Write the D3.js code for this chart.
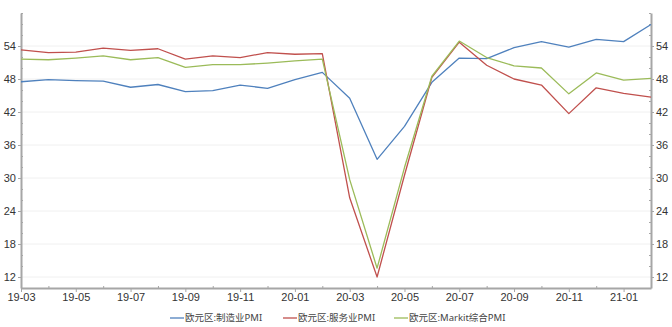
<!DOCTYPE html>
<html>
<head>
<meta charset="utf-8">
<script src="https://cdn.jsdelivr.net/npm/d3@7"></script>
<style>
  html, body { margin: 0; padding: 0; background: #fff; }
  svg { display: block; font-family: "Noto Sans", "Noto Sans CJK SC", sans-serif; }
</style>
</head>
<body>
<svg id="chart" width="672" height="327"></svg>
<script>
const months = ["19-03","19-04","19-05","19-06","19-07","19-08","19-09","19-10","19-11","19-12",
  "20-01","20-02","20-03","20-04","20-05","20-06","20-07","20-08","20-09","20-10","20-11","20-12",
  "21-01","21-02"];
const manufacturing = [47.5,47.9,47.7,47.6,46.5,47.0,45.7,45.9,46.9,46.3,47.9,49.2,44.5,33.4,39.4,47.4,51.8,51.7,53.7,54.8,53.8,55.2,54.8,57.9];
const services = [53.3,52.8,52.9,53.6,53.2,53.5,51.6,52.2,51.9,52.8,52.5,52.6,26.4,12.0,30.5,48.3,54.7,50.5,48.0,46.9,41.7,46.4,45.4,44.7];
const composite = [51.6,51.5,51.8,52.2,51.5,51.9,50.1,50.6,50.6,50.9,51.3,51.6,29.7,13.6,31.9,48.5,54.9,51.9,50.4,50.0,45.3,49.1,47.8,48.1];
const seriesNames = ["欧元区:制造业PMI","欧元区:服务业PMI","欧元区:Markit综合PMI"];
const seriesColors = ["#4f81bd","#c0504d","#9bbb59"];
const yTicks = [12,18,24,30,36,42,48,54];
const yMinorTicks = [10,14,16,20,22,26,28,32,34,38,40,44,46,50,52,56,58,60];
const xTickLabels = ["19-03","19-05","19-07","19-09","19-11","20-01","20-03","20-05","20-07","20-09","20-11","21-01"];

const svg = d3.select("#chart");
const L = 21, R = 651, T = 13, B = 288;
const x = d3.scalePoint().domain(months).range([L, R]).padding(0);
const y = d3.scaleLinear().domain([10, 60]).range([B, T]);
const axisColor = "#a6a6a6";
const textColor = "#333";

// gridlines
svg.append("g").selectAll("line").data(yTicks).join("line")
  .attr("x1", L).attr("x2", R)
  .attr("y1", d => y(d)).attr("y2", d => y(d))
  .attr("stroke", "#f0f0f0").attr("stroke-width", 1);

function styleAxis(g) {
  g.select(".domain").attr("stroke", axisColor).attr("stroke-width", 2);
  g.selectAll(".tick line").attr("stroke", axisColor).attr("stroke-width", 1);
  g.selectAll(".tick text").attr("fill", textColor).style("font-size", "11px");
}

// left axis
svg.append("g").attr("transform", `translate(${L},0)`)
  .call(d3.axisLeft(y).tickValues(yTicks).tickSizeInner(3).tickSizeOuter(0).tickPadding(2))
  .call(styleAxis);
svg.append("g").attr("transform", `translate(${L},0)`)
  .call(d3.axisLeft(y).tickValues(yMinorTicks).tickSizeInner(-2).tickSizeOuter(0).tickFormat(""))
  .call(g => { g.select(".domain").remove(); g.selectAll(".tick line").attr("stroke", axisColor); });

// right axis
svg.append("g").attr("transform", `translate(${R},0)`)
  .call(d3.axisRight(y).tickValues(yTicks).tickSizeInner(3).tickSizeOuter(0).tickPadding(2))
  .call(styleAxis);
svg.append("g").attr("transform", `translate(${R},0)`)
  .call(d3.axisRight(y).tickValues(yMinorTicks).tickSizeInner(-2).tickSizeOuter(0).tickFormat(""))
  .call(g => { g.select(".domain").remove(); g.selectAll(".tick line").attr("stroke", axisColor); });

// bottom axis
const xMinor = months.filter(m => !xTickLabels.includes(m));
svg.append("g").attr("transform", `translate(0,${B})`)
  .call(d3.axisBottom(x).tickValues(xMinor).tickSizeInner(-2).tickSizeOuter(0).tickFormat(""))
  .call(g => { g.select(".domain").remove(); g.selectAll(".tick line").attr("stroke", axisColor); });
svg.append("g").attr("transform", `translate(0,${B})`)
  .call(d3.axisBottom(x).tickValues(xTickLabels).tickSizeInner(4).tickSizeOuter(0).tickPadding(1))
  .call(styleAxis);

// lines
const allSeries = [manufacturing, services, composite];
const line = d3.line().x((d, i) => x(months[i])).y(d => y(d));
allSeries.forEach((s, k) => {
  svg.append("path").datum(s)
    .attr("fill", "none")
    .attr("stroke", seriesColors[k])
    .attr("stroke-width", 1.3)
    .attr("stroke-linejoin", "round")
    .attr("d", line);
});

// legend
const legendX = [170, 283, 394];
const lg = svg.append("g");
seriesNames.forEach((n, k) => {
  const g = lg.append("g").attr("transform", `translate(${legendX[k]},318)`);
  g.append("line").attr("x1", 0).attr("x2", 14).attr("y1", 0).attr("y2", 0)
    .attr("stroke", seriesColors[k]).attr("stroke-width", 1.3);
  g.append("text").attr("x", 15).attr("y", 0).attr("dy", "0.35em")
    .attr("fill", "#444").style("font-size", "9.5px").text(n);
});
</script>
</body>
</html>
